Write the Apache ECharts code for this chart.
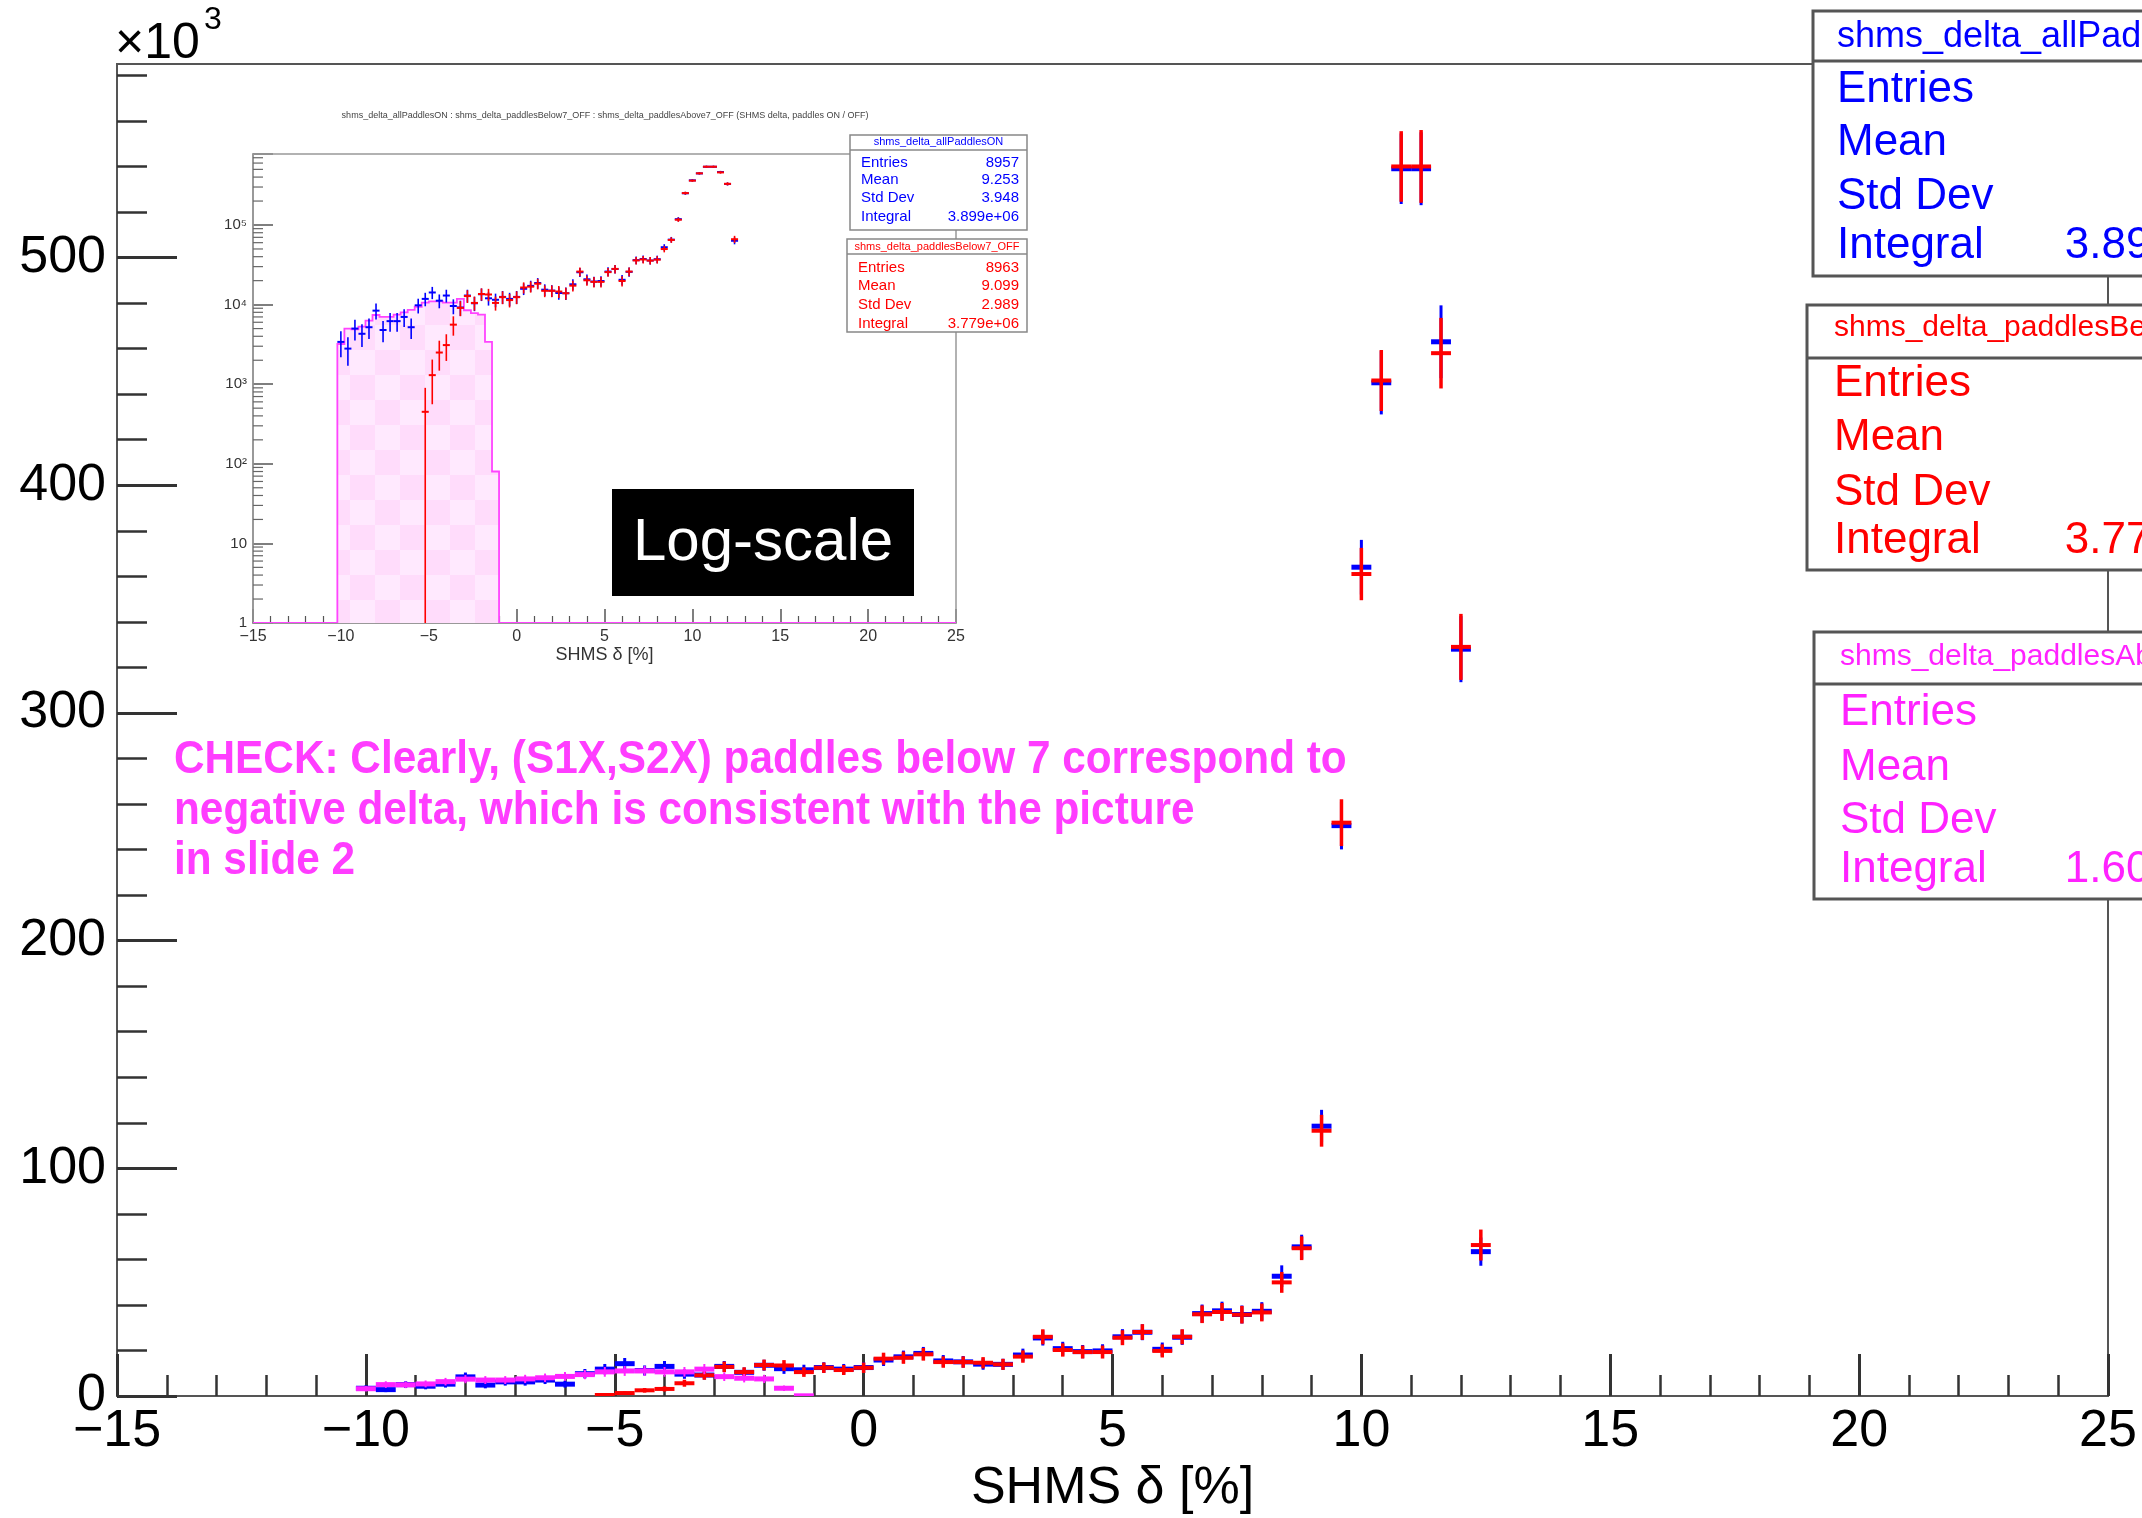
<!DOCTYPE html>
<html>
<head>
<meta charset="utf-8">
<title>SHMS delta</title>
<script src="https://cdn.jsdelivr.net/npm/echarts@6/dist/echarts.min.js"></script>
<style>
  html, body { margin: 0; padding: 0; background: #fff; }
  #chart { width: 2142px; height: 1518px; }
</style>
</head>
<body>
<div id="chart"></div>
<script>
// bin centres of the 0.4-wide bins (100 bins from -15 to 25), only the filled ones
const binCenters = [-10.0, -9.6, -9.2, -8.8, -8.4, -8.0, -7.6, -7.2, -6.8, -6.4, -6.0, -5.6, -5.2, -4.8, -4.4,
  -4.0, -3.6, -3.2, -2.8, -2.4, -2.0, -1.6, -1.2, -0.8, -0.4, 0.0, 0.4, 0.8, 1.2, 1.6, 2.0, 2.4, 2.8, 3.2,
  3.6, 4.0, 4.4, 4.8, 5.2, 5.6, 6.0, 6.4, 6.8, 7.2, 7.6, 8.0, 8.4, 8.8, 9.2, 9.6, 10.0, 10.4, 10.8, 11.2,
  11.6, 12.0, 12.4];

// counts in units of 10^3
const blueCounts = [3.4, 2.8, 5.0, 4.3, 5.2, 8.4, 4.8, 6.2, 6.2, 7.0, 5.2, 9.8, 11.8, 14.2, 11.2, 13.0, 9.6,
  9.2, 13.0, 10.4, 13.5, 12.0, 11.5, 12.5, 11.8, 12.5, 15.8, 17.2, 18.7, 15.4, 15.0, 14.0, 13.9, 18.0, 25.5,
  20.8, 19.5, 19.8, 26.0, 28.0, 20.5, 25.8, 36.2, 37.4, 35.8, 37.2, 52.6, 65.5, 118.5, 250.5, 364, 445, 539,
  539, 463, 328, 63.4];
const blueErrors = [1.22, 1.10, 1.47, 1.37, 1.50, 1.91, 1.44, 1.64, 1.64, 1.75, 1.50, 2.06, 2.27, 2.49, 2.21,
  2.38, 2.04, 2.00, 2.38, 2.13, 2.42, 2.28, 2.24, 2.33, 2.27, 2.33, 2.62, 2.74, 2.85, 2.59, 2.55, 2.47, 2.46,
  2.80, 3.33, 3.01, 2.91, 2.93, 3.36, 3.49, 2.99, 3.35, 3.97, 4.03, 3.95, 4.02, 4.78, 5.34, 7.18, 10.44, 12.0,
  13.9, 15.5, 16.0, 16.0, 14.5, 6.2];

const redCounts = [null, null, null, null, null, null, null, null, null, null, null, null, 0.45, 1.3, 2.5, 3.1,
  5.6, 9.1, 12.8, 10.5, 13.6, 13.4, 10.5, 12.4, 11.4, 12.4, 16.4, 16.8, 18.3, 14.9, 14.9, 14.6, 13.9, 17.3,
  26.0, 20.2, 19.3, 19.3, 25.6, 28.1, 19.8, 26.0, 35.9, 36.9, 35.7, 36.7, 49.9, 64.9, 116.5, 251.8, 361, 446,
  540, 540, 458, 329, 66.3];
const redErrors = [null, null, null, null, null, null, null, null, null, null, null, null, 0.45, 0.74, 1.02,
  1.14, 1.53, 1.95, 2.32, 2.10, 2.39, 2.37, 2.10, 2.28, 2.19, 2.28, 2.62, 2.66, 2.77, 2.50, 2.50, 2.48, 2.42,
  2.70, 3.30, 2.91, 2.85, 2.85, 3.28, 3.44, 2.88, 3.30, 3.88, 3.94, 3.87, 3.93, 4.58, 5.22, 7.00, 10.28, 11.5,
  13.4, 15.5, 16.0, 15.5, 14.5, 6.8];

const magentaCounts = [3.2, 5.0, 4.9, 5.3, 6.3, 7.4, 7.0, 7.0, 7.5, 8.0, 8.6, 9.4, 10.6, 11.0, 11.0, 10.6,
  10.6, 11.8, 8.5, 7.8, 7.5, 3.4, 0.08];
const magentaErrors = [1.17, 1.47, 1.46, 1.51, 1.65, 1.79, 1.74, 1.74, 1.81, 1.86, 1.93, 2.02, 2.14, 2.18,
  2.18, 2.14, 2.14, 2.25, 1.92, 1.83, 1.81, 1.21, 0.19];

const yMajorTicks = [0, 100, 200, 300, 400, 500];
const yMinorTicks = [20, 40, 60, 80, 120, 140, 160, 180, 220, 240, 260, 280, 320, 340, 360, 380, 420, 440,
  460, 480, 520, 540, 560, 580];
const insetDecades = [1, 10, 100, 1000, 10000, 100000];
const insetMinorSteps = [2, 3, 4, 5, 6, 7, 8, 9];

const statLabels = ['Entries', 'Mean', 'Std Dev', 'Integral'];
const blueStats = ['8957', '9.253', '3.948', '3.899e+06'];
const redStats = ['8963', '9.099', '2.989', '3.779e+06'];
const magentaIntegral = '1.602e+05';

const BLUE = '#0000ff', RED = '#ff0000', MAGENTA = '#ff22ff';
const FONT = "'Liberation Sans', Arial, Helvetica, sans-serif";
const BIN_HALF = 0.2;
const INSET_MIN = 1;

// checker pattern for the filled histogram of the inset
const pat = document.createElement('canvas');
pat.width = 50; pat.height = 50;
const pctx = pat.getContext('2d');
pctx.fillStyle = '#ffdcfb'; pctx.fillRect(0, 0, 50, 50);
pctx.fillStyle = '#ffe9fe'; pctx.fillRect(0, 0, 25, 25); pctx.fillRect(25, 25, 25, 25);

function crossSeries(counts, errors, color, scale, xi, yi, hWidth, vWidth, floor) {
  const data = [];
  counts.forEach((c, i) => {
    if (c != null) data.push([binCenters[i], c * scale, errors[i] * scale]);
  });
  return {
    type: 'custom', xAxisIndex: xi, yAxisIndex: yi, data: data, clip: true, silent: true,
    encode: { x: 0, y: 1 },
    renderItem: (params, api) => {
      const x = api.value(0), y = api.value(1), e = api.value(2);
      const l = api.coord([x - BIN_HALF, y]);
      const r = api.coord([x + BIN_HALF, y]);
      const t = api.coord([x, y + e]);
      const b = api.coord([x, Math.max(y - e, floor)]);
      return {
        type: 'group', children: [
          { type: 'line', shape: { x1: t[0], y1: t[1], x2: b[0], y2: b[1] }, style: { stroke: color, lineWidth: vWidth } },
          { type: 'line', shape: { x1: l[0], y1: l[1], x2: r[0], y2: r[1] }, style: { stroke: color, lineWidth: hWidth } }
        ]
      };
    }
  };
}

function txt(x, y, text, size, color, opts) {
  opts = opts || {};
  return {
    type: 'text', z: 60, x: x, y: y, scaleX: opts.scaleX || 1,
    style: {
      text: text, fill: color, fontSize: size, fontFamily: opts.family || FONT,
      fontWeight: opts.weight || 'normal',
      align: opts.align || 'left', verticalAlign: 'middle',
      textAlign: opts.align || 'left', textVerticalAlign: 'middle'
    }
  };
}

function box(x, y, w, h, divY, stroke, lw) {
  return [
    { type: 'rect', z: 55, shape: { x: x, y: y, width: w, height: h }, style: { fill: '#fff', stroke: stroke, lineWidth: lw } },
    { type: 'line', z: 56, shape: { x1: x, y1: divY, x2: x + w, y2: divY }, style: { stroke: stroke, lineWidth: lw } }
  ];
}

const graphics = [];
// main stat boxes
[
  { x: 1813, y: 11, h: 265, div: 61, tY: 37, tSize: 36, tx: 1837, title: 'shms_delta_allPaddlesON', color: BLUE, rows: [90, 143, 197, 246], val: blueStats[3] },
  { x: 1807, y: 305, h: 265, div: 358, tY: 328, tSize: 30, tx: 1834, title: 'shms_delta_paddlesBelow7_OFF', color: RED, rows: [384, 438, 493, 541], val: redStats[3] },
  { x: 1814, y: 632, h: 267, div: 684, tY: 657, tSize: 30, tx: 1840, title: 'shms_delta_paddlesAbove7_OFF', color: MAGENTA, rows: [713, 768, 821, 870], val: magentaIntegral }
].forEach(b => {
  graphics.push(...box(b.x, b.y, 520, b.h, b.div, '#555', 3));
  graphics.push(txt(b.tx, b.tY, b.title, b.tSize, b.color));
  statLabels.forEach((s, i) => graphics.push(txt(b.tx, b.rows[i], s, 44, b.color)));
  graphics.push(txt(2274, b.rows[3], b.val, 44, b.color, { align: 'right' }));
});

// inset stat boxes
[
  { x: 850, y: 135, w: 177, h: 95, div: 150, tY: 142, title: 'shms_delta_allPaddlesON', color: BLUE, rows: [163, 180, 198, 217], vals: blueStats },
  { x: 847, y: 239, w: 180, h: 93, div: 254, tY: 247, title: 'shms_delta_paddlesBelow7_OFF', color: RED, rows: [268, 286, 305, 324], vals: redStats }
].forEach(b => {
  graphics.push(...box(b.x, b.y, b.w, b.h, b.div, '#888', 1.5));
  graphics.push(txt(b.x + b.w / 2, b.tY, b.title, 11, b.color, { align: 'center' }));
  statLabels.forEach((s, i) => {
    graphics.push(txt(b.x + 11, b.rows[i], s, 15, b.color));
    graphics.push(txt(b.x + b.w - 8, b.rows[i], b.vals[i], 15, b.color, { align: 'right' }));
  });
});

// inset title
graphics.push(txt(605, 116, 'shms_delta_allPaddlesON : shms_delta_paddlesBelow7_OFF : shms_delta_paddlesAbove7_OFF (SHMS delta, paddles ON / OFF)', 9, '#444', { align: 'center' }));

// exponent of the main y axis
graphics.push(txt(115, 44, '×10', 50, '#000'));
graphics.push(txt(204, 20, '3', 32, '#000'));

// annotation
const noteOpts = { weight: 'bold', scaleX: 0.92 };
graphics.push(txt(174, 760, 'CHECK: Clearly, (S1X,S2X) paddles below 7 correspond to', 46, '#ff3dff', noteOpts));
graphics.push(txt(174, 811, 'negative delta, which is consistent with the picture', 46, '#ff3dff', noteOpts));
graphics.push(txt(174, 861, 'in slide 2', 46, '#ff3dff', noteOpts));

// Log-scale label
graphics.push({ type: 'rect', z: 58, shape: { x: 612, y: 489, width: 302, height: 107 }, style: { fill: '#000' } });
graphics.push(txt(763, 543, 'Log-scale', 60, '#fff', { align: 'center' }));

const axisLabelFont = { fontFamily: FONT, color: '#000' };
const minusFmt = v => (v < 0 ? '\u2212' + Math.abs(v) : String(v));
const supDigits = ['\u2070', '\u00b9', '\u00b2', '\u00b3', '\u2074', '\u2075', '\u2076'];

const option = {
  backgroundColor: '#fff',
  animation: false,
  grid: [
    { left: 117, right: 34, top: 64, bottom: 122, show: true, borderColor: '#555', borderWidth: 2, outerBoundsMode: 'none', z: 0 },
    { left: 253, right: 1186, top: 154, bottom: 895, show: true, borderColor: '#999', borderWidth: 1.5, outerBoundsMode: 'none', z: 1 }
  ],
  xAxis: [
    {
      gridIndex: 0, type: 'value', min: -15, max: 25, interval: 5,
      axisLine: { show: true, onZero: false, lineStyle: { color: '#555', width: 2 } },
      axisTick: { show: true, inside: true, length: 42, lineStyle: { color: '#333', width: 3 } },
      minorTick: { show: true, splitNumber: 5, length: 21, lineStyle: { color: '#333', width: 2.5 } },
      axisLabel: Object.assign({ fontSize: 52, margin: 10, formatter: minusFmt }, axisLabelFont),
      splitLine: { show: false },
      name: 'SHMS δ [%]', nameLocation: 'middle', nameGap: 62,
      nameTextStyle: { fontSize: 52, fontFamily: FONT, color: '#000' }
    },
    {
      gridIndex: 1, type: 'value', min: -15, max: 25, interval: 5,
      axisLine: { show: true, onZero: false, lineStyle: { color: '#777', width: 1.5 } },
      axisTick: { show: true, inside: true, length: 14, lineStyle: { color: '#555', width: 1.5 } },
      minorTick: { show: true, splitNumber: 5, length: 7, lineStyle: { color: '#555', width: 1.2 } },
      axisLabel: { fontSize: 16, margin: 6, formatter: minusFmt, fontFamily: FONT, color: '#333' },
      splitLine: { show: false },
      name: 'SHMS δ [%]', nameLocation: 'middle', nameGap: 22,
      nameTextStyle: { fontSize: 18, fontFamily: FONT, color: '#333' }
    }
  ],
  yAxis: [
    {
      gridIndex: 0, type: 'value', min: 0, max: 585, position: 'left',
      axisLine: { show: true, onZero: false, lineStyle: { color: '#555', width: 2 } },
      axisTick: { show: true, inside: true, length: 60, customValues: yMajorTicks, lineStyle: { color: '#333', width: 3 } },
      axisLabel: Object.assign({ fontSize: 52, margin: 11, customValues: yMajorTicks }, axisLabelFont),
      splitLine: { show: false }
    },
    {
      gridIndex: 0, type: 'value', min: 0, max: 585, position: 'left',
      axisLine: { show: false, onZero: false },
      axisTick: { show: true, inside: true, length: 30, customValues: yMinorTicks, lineStyle: { color: '#333', width: 2.5 } },
      axisLabel: { show: false },
      splitLine: { show: false }
    },
    {
      gridIndex: 1, type: 'log', logBase: 10, min: INSET_MIN, max: 780000, position: 'left',
      axisLine: { show: true, onZero: false, lineStyle: { color: '#777', width: 1.5 } },
      axisTick: { show: true, inside: true, length: 20, lineStyle: { color: '#555', width: 1.5 } },
      axisLabel: {
        fontSize: 15, margin: 6, fontFamily: FONT, color: '#333',
        formatter: v => {
          const p = Math.log10(v);
          if (Math.abs(p - Math.round(p)) > 1e-6) return '';
          const k = Math.round(p);
          if (k === 0) return '1';
          if (k === 1) return '10';
          return '10' + supDigits[k];
        }
      },
      splitLine: { show: false }
    }
  ],
  graphic: { elements: graphics },
  series: [
    // inset: filled histogram first, then the two point sets
    {
      type: 'custom', xAxisIndex: 1, yAxisIndex: 2, data: [[0, INSET_MIN]], clip: true, silent: true,
      renderItem: (params, api) => {
        const pts = [api.coord([binCenters[0] - BIN_HALF, INSET_MIN])];
        magentaCounts.forEach((c, i) => {
          const v = Math.max(c * 1000, INSET_MIN);
          pts.push(api.coord([binCenters[i] - BIN_HALF, v]), api.coord([binCenters[i] + BIN_HALF, v]));
        });
        const last = magentaCounts.length - 1;
        pts.push(api.coord([binCenters[last] + BIN_HALF, INSET_MIN]));
        const outline = [api.coord([-15, INSET_MIN])].concat(pts, [api.coord([25, INSET_MIN])]);
        return {
          type: 'group', children: [
            { type: 'polygon', shape: { points: pts }, style: { fill: { image: pat, repeat: 'repeat' } } },
            { type: 'polyline', shape: { points: outline }, style: { stroke: '#ff44ff', lineWidth: 1.8, fill: null } }
          ]
        };
      }
    },
    {
      // log minor ticks of the inset y axis
      type: 'custom', xAxisIndex: 1, yAxisIndex: 2, data: [[0, INSET_MIN]], clip: false, silent: true,
      renderItem: (params, api) => {
        const children = [];
        insetDecades.forEach(d => insetMinorSteps.forEach(m => {
          const v = d * m;
          if (v > 780000) return;
          const p = api.coord([-15, v]);
          children.push({ type: 'line', shape: { x1: p[0], y1: p[1], x2: p[0] + 10, y2: p[1] }, style: { stroke: '#666', lineWidth: 1.2 } });
        }));
        return { type: 'group', children: children };
      }
    },
    crossSeries(blueCounts, blueErrors, BLUE, 1000, 1, 2, 2, 1.6, INSET_MIN),
    crossSeries(redCounts, redErrors, RED, 1000, 1, 2, 2, 1.6, INSET_MIN),
    // main linear plot
    crossSeries(blueCounts, blueErrors, BLUE, 1, 0, 0, 5, 3, 0),
    crossSeries(redCounts, redErrors, RED, 1, 0, 0, 4, 3.5, 0),
    crossSeries(magentaCounts, magentaErrors, MAGENTA, 1, 0, 0, 5, 2, 0)
  ]
};

const chart = echarts.init(document.getElementById('chart'));
chart.setOption(option);
</script>
</body>
</html>
